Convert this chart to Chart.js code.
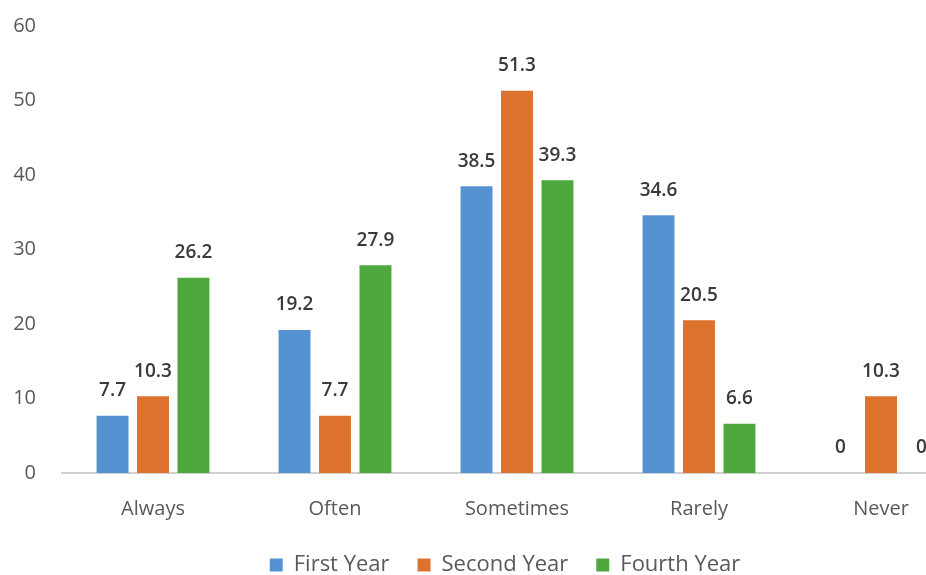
<!DOCTYPE html>
<html>
<head>
<meta charset="utf-8">
<script src="https://cdn.jsdelivr.net/npm/chart.js@4/dist/chart.umd.min.js"></script>
<style>
  body { margin: 0; overflow: hidden; background: #fff; }
  #wrap { width: 1010px; height: 575px; }
</style>
</head>
<body>
<div id="wrap"><canvas id="chart" width="1010" height="575"></canvas></div>
<script>
let categories = ['Always', 'Often', 'Sometimes', 'Rarely', 'Never'];
let firstYear = [7.7, 19.2, 38.5, 34.6, 0];
let secondYear = [10.3, 7.7, 51.3, 20.5, 10.3];
let fourthYear = [26.2, 27.9, 39.3, 6.6, 0];
let yTicks = [0, 10, 20, 30, 40, 50, 60];

let fontName = "'Open Sans', 'Noto Sans', sans-serif";

// value labels above the bars + legend placement tweaks
let valueLabels = {
    id: 'valueLabels',
    beforeLayout(chart) {
        // pin the legend height so the plot keeps its place
        let lg = chart.legend;
        if (lg && !lg._pinned) {
            let fit = lg.fit.bind(lg);
            lg.fit = function () { fit(); this.height = 49; };
            lg._pinned = true;
        }
    },
    afterLayout(chart) {
        // center legend on the whole canvas, not just the padded area
        let lg = chart.legend;
        lg.left = 0;
        lg.right = chart.width;
        lg.width = chart.width;
    },
    afterDatasetsDraw(chart) {
        let ctx = chart.ctx;
        ctx.save();
        ctx.font = '600 19px ' + fontName;
        ctx.fillStyle = '#3a3a3a';
        ctx.textAlign = 'center';
        ctx.textBaseline = 'middle';
        chart.data.datasets.forEach((ds, i) => {
            chart.getDatasetMeta(i).data.forEach((bar, j) => {
                ctx.fillText(String(ds.data[j]), bar.x, bar.y - 25);
            });
        });
        ctx.restore();
    }
};

let ctx = document.getElementById('chart').getContext('2d');
let chart = new Chart(ctx, {
    type: 'bar',
    data: {
        labels: categories,
        datasets: [
            { label: 'First Year', data: firstYear, backgroundColor: '#5592d2' },
            { label: 'Second Year', data: secondYear, backgroundColor: '#dc722e' },
            { label: 'Fourth Year', data: fourthYear, backgroundColor: '#4ea83e' }
        ]
    },
    options: {
        responsive: false,
        animation: false,
        layout: { padding: { top: 6, right: 38, left: 0, bottom: 0 } },
        datasets: {
            bar: { categoryPercentage: 0.667, barPercentage: 0.79 }
        },
        scales: {
            x: {
                grid: { display: false },
                border: { display: true, color: '#d0d0d0', width: 2 },
                ticks: { color: '#595959', font: { family: fontName, size: 20 }, padding: 16 },
                afterFit: (scale) => { scale.height = 53; }
            },
            y: {
                min: 0,
                max: 60,
                afterBuildTicks: (scale) => { scale.ticks = yTicks.map(v => ({ value: v })); },
                grid: { display: false },
                border: { display: false },
                ticks: { color: '#595959', font: { family: fontName, size: 20, lineHeight: 0.8 }, padding: 18 },
                afterFit: (scale) => { scale.width = 62; }
            }
        },
        plugins: {
            legend: {
                position: 'bottom',
                labels: {
                    boxWidth: 13,
                    boxHeight: 13,
                    padding: 28,
                    color: '#595959',
                    font: { family: fontName, size: 22 }
                }
            },
            tooltip: { enabled: false }
        }
    },
    plugins: [valueLabels]
});
</script>
</body>
</html>
